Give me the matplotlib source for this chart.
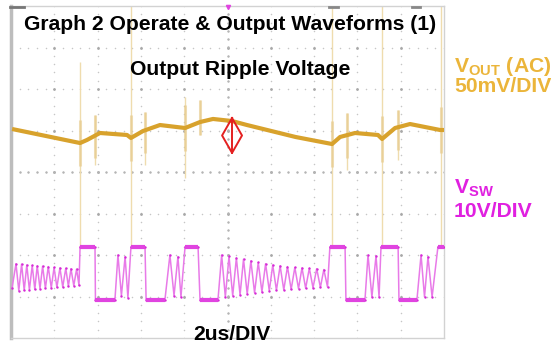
import numpy as np
import matplotlib.pyplot as plt
from matplotlib import font_manager

names = {f.name for f in font_manager.fontManager.ttflist}
FONT = 'Liberation Sans' if 'Liberation Sans' in names else 'DejaVu Sans'
plt.rcParams['font.family'] = FONT
plt.rcParams['mathtext.fontset'] = 'custom'
plt.rcParams['mathtext.rm'] = FONT + ':bold'
plt.rcParams['mathtext.bf'] = FONT + ':bold'

# time base: 2us/DIV, 10 divisions
# VOUT (AC), mV
t_vout = [0.05, 3.19, 3.51, 4.11, 5.36, 5.54, 6.10, 6.88, 8.04, 8.73, 9.33,
          10.21, 10.90, 13.14, 14.83, 15.20, 15.89, 16.95, 17.14, 17.74,
          18.43, 19.82, 20.0]
vout_mv = [1.8, -15.1, -11.4, -3.0, -5.4, -9.0, -0.6, 6.6, 3.0, 10.2, 13.9,
           11.4, 6.6, -7.8, -16.3, -7.8, -3.0, -5.4, -10.2, 3.0,
           7.8, 0.6, 0.6]

# switching spikes coupled onto VOUT
spike_t = [3.19, 3.88, 5.54, 6.19, 8.04, 8.73, 14.83, 15.52, 17.14, 17.88, 19.86]
spike_top_mv = [82, 18.5, 150, 22.5, 40.5, 36.5, 150, 21, 150, 24.5, 150]
spike_bot_mv = [-140, -41.5, -140, -41.5, -57, -5.5, -140, -47.5, -140, -35.5, -140]

# ripple marker (red double arrow)
ripple_t = 10.21
ripple_hi_mv = 15
ripple_lo_mv = -27

# VSW, volts
t_sw = [0.05, 0.23, 0.36, 0.49, 0.61, 0.73, 0.85, 0.98, 1.10, 1.21, 1.34,
        1.46, 1.59, 1.72, 1.86, 1.99, 2.12, 2.26, 2.39, 2.53, 2.65, 2.77,
        2.90, 3.03, 3.14,
        3.19, 3.88, 3.90, 4.80, 4.94, 5.10, 5.27, 5.40,
        5.54, 6.19, 6.24, 7.11, 7.34, 7.53, 7.71, 7.85,
        8.04, 8.64, 8.73, 9.56,
        9.73, 9.90, 10.07, 10.24, 10.41, 10.58, 10.74, 10.91, 11.08, 11.25,
        11.42, 11.59, 11.76, 11.93, 12.09, 12.26, 12.43, 12.60, 12.77, 12.94,
        13.11, 13.28, 13.44, 13.61, 13.78, 13.95, 14.12, 14.29, 14.45, 14.62,
        14.73, 15.43, 15.47, 16.35, 16.49, 16.67, 16.86, 17.00,
        17.09, 17.88, 17.92, 18.75, 18.94, 19.10, 19.26, 19.45,
        19.72, 20.0]
vsw = [2.9, 8.7, 2.2, 8.6, 2.3, 8.4, 2.4, 8.3, 2.5, 8.2, 2.7,
       8.1, 2.8, 8.0, 2.9, 7.8, 3.0, 7.7, 3.1, 7.6, 3.3, 7.5,
       3.4, 7.4, 3.5,
       12.8, 12.8, 0.0, 0.0, 10.8, 1.0, 10.4, 0.5,
       12.8, 12.8, 0.0, 0.0, 10.8, 1.0, 10.4, 0.7,
       12.8, 12.8, 0.0, 0.0,
       10.8, 0.7, 10.5, 1.0, 10.1, 1.2, 9.8, 1.4, 9.4, 1.7,
       9.0, 1.9, 8.7, 2.2, 8.4, 2.3, 8.2, 2.4, 8.0, 2.5,
       7.8, 2.7, 7.7, 2.8, 7.6, 2.9, 7.5, 3.0, 7.3, 3.1,
       12.8, 12.8, 0.0, 0.0, 10.8, 0.7, 10.6, 0.7,
       12.8, 12.8, 0.0, 0.0, 10.8, 0.7, 10.4, 0.7,
       12.8, 12.8]

VOUT_SCALE, VOUT_POS = 50.0, 1.0     # mV/DIV, screen position (div)
SW_SCALE, SW_POS = 10.0, -3.08       # V/DIV

C_OUT = '#d8a22c'
C_OUT_LBL = '#ebb53a'
C_SW = '#e044e0'
C_SW_LBL = '#e020e0'

fig = plt.figure(figsize=(5.51, 3.43), dpi=100)
ax = fig.add_axes([11 / 551, 5 / 343, 433 / 551, 332 / 343])
ax.set_xlim(0, 20)
ax.set_ylim(-4, 4)
ax.set_xticks([])
ax.set_yticks([])
for side, sp in ax.spines.items():
    sp.set_color('#d2d2d2')
    sp.set_linewidth(1)
ax.spines['left'].set_color('#bdbdbd')
ax.spines['left'].set_linewidth(2.5)

# graticule made of dots
gx = np.arange(2, 20, 2)
gy = np.arange(-3, 4, 1)
dy = np.arange(-4, 4.01, 0.2)
dx = np.arange(0, 20.01, 0.4)
for x in gx:
    ax.scatter(np.full_like(dy, x), dy, s=1.2, color='#c6c6c6', lw=0, zorder=1)
for y in gy:
    ax.scatter(dx, np.full_like(dx, y), s=1.2, color='#c6c6c6', lw=0, zorder=1)
X, Y = np.meshgrid(gx, gy)
ax.scatter(X.ravel(), Y.ravel(), s=4, color='#a8a8a8', lw=0, zorder=1)
ax.scatter(dx, np.zeros_like(dx), s=3, color='#b4b4b4', lw=0, zorder=1)
ax.scatter(np.full_like(dy, 10), dy, s=3, color='#b4b4b4', lw=0, zorder=1)

# top border marks
ax.plot([-0.05, 0.6], [3.97, 3.97], color='#777777', lw=2, clip_on=False, zorder=5)
ax.plot([14.7, 15.1], [3.97, 3.97], color='#888888', lw=2, clip_on=False, zorder=5)
ax.plot([18.5, 18.9], [3.97, 3.97], color='#888888', lw=2, clip_on=False, zorder=5)
ax.plot([10.0], [3.97], marker='v', ms=3, color=C_SW, clip_on=False, zorder=5)

# VOUT trace with spikes
y_out = np.array(vout_mv) / VOUT_SCALE + VOUT_POS
st = np.array(spike_t)
s_top = np.array(spike_top_mv) / VOUT_SCALE + VOUT_POS
s_bot = np.array(spike_bot_mv) / VOUT_SCALE + VOUT_POS
base = np.interp(st, t_vout, y_out)
ax.vlines(st, s_bot, s_top, color='#efdcae', lw=1.0, zorder=2)
ax.vlines(st, np.maximum(s_bot, base - 0.55), np.minimum(s_top, base + 0.55),
          color='#e6c988', lw=2.2, alpha=0.6, zorder=2)
ax.plot(t_vout, y_out, color=C_OUT, lw=3, solid_capstyle='butt', zorder=3)

# ripple arrow
r_hi = ripple_hi_mv / VOUT_SCALE + VOUT_POS
r_lo = ripple_lo_mv / VOUT_SCALE + VOUT_POS
r_mid = (r_hi + r_lo) / 2
hw = 0.46
ax.plot([ripple_t, ripple_t - hw, ripple_t, ripple_t + hw, ripple_t],
        [r_hi, r_mid, r_lo, r_mid, r_hi], color='#e42020', lw=1.4, zorder=4)
ax.plot([ripple_t, ripple_t], [r_hi, r_lo], color='#e42020', lw=1.4, zorder=4)

# VSW trace
y_sw = np.array(vsw) / SW_SCALE + SW_POS
ax.plot(t_sw, y_sw, color='#e87ae8', lw=1.1, zorder=3)
ax.scatter(t_sw, y_sw, s=3, color='#d62ad6', lw=0, zorder=3)
for i in range(len(t_sw) - 1):
    if vsw[i] == vsw[i + 1]:
        ax.plot(t_sw[i:i + 2], y_sw[i:i + 2], color=C_SW, lw=3,
                solid_capstyle='butt', zorder=4)

# labels
def px(x, y):
    return x / 551, 1 - y / 343

kw = dict(fontsize=15.2, fontweight='bold', va='baseline', ha='left')
fig.text(*px(24, 30), 'Graph 2 Operate & Output Waveforms (1)', color='black', **kw)
fig.text(*px(130, 75), 'Output Ripple Voltage', color='black', **kw)
fig.text(*px(193, 340), '2us/DIV', color='black', **kw)
fig.text(*px(454, 72), r'V$_{\mathrm{OUT}}$ (AC)', color=C_OUT_LBL, **kw)
fig.text(*px(454, 92), '50mV/DIV', color=C_OUT_LBL, **kw)
fig.text(*px(454, 193), r'V$_{\mathrm{SW}}$', color=C_SW_LBL, **kw)
fig.text(*px(454, 217), '10V/DIV', color=C_SW_LBL, **kw)

fig.savefig('out.png', dpi=100)
